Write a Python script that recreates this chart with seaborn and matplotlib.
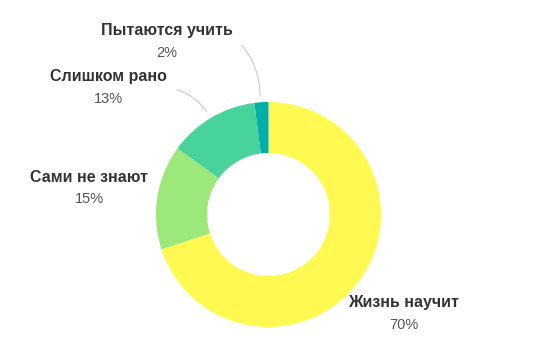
import matplotlib
matplotlib.use("Agg")
import matplotlib.pyplot as plt
import seaborn as sns

categories = ["Жизнь научит", "Сами не знают", "Слишком рано", "Пытаются учить"]
values = [70, 15, 13, 2]
pct_labels = ["70%", "15%", "13%", "2%"]
colors = ["#FFF952", "#9DE87A", "#47D39B", "#00AFA8"]

sns.set_theme(style="white")
plt.rcParams['font.family'] = ['Liberation Sans', 'DejaVu Sans']

fig = plt.figure(figsize=(5.33, 3.56), dpi=100)
ax = fig.add_axes([0, 0, 1, 1])

pal = sns.color_palette(colors)
cx, cy, R, r = 268.5, 214.5, 112.5, 61.5
# y axis is inverted below, so "clockwise from top" on screen is
# counter-clockwise from -90 degrees in data space
ax.pie(values, colors=pal, startangle=-90, counterclock=True,
       center=(cx, cy), radius=R,
       wedgeprops=dict(width=R - r, linewidth=0))
ax.set_xlim(0, 533)
ax.set_ylim(356, 0)
ax.set_aspect('equal')
ax.axis('off')

# label layout
label_pos = [(404, 303), (89, 177), (108.5, 77), (166.5, 31)]
for name, pct, (x, y) in zip(categories, pct_labels, label_pos):
    ax.text(x, y, name, ha='center', va='center', fontsize=11.5,
            fontweight='bold', color='#333333')
    ax.text(x, y + 22, pct, ha='center', va='center', fontsize=10.5,
            color='#555555')

# leader lines
ax.annotate('', xy=(260, 99), xytext=(240, 43),
            arrowprops=dict(arrowstyle='-', color='#cccccc', lw=0.8,
                            connectionstyle='arc3,rad=-0.2'))
ax.annotate('', xy=(208, 114), xytext=(175, 89),
            arrowprops=dict(arrowstyle='-', color='#cccccc', lw=0.8,
                            connectionstyle='arc3,rad=-0.2'))

fig.savefig("out.png", dpi=100)
